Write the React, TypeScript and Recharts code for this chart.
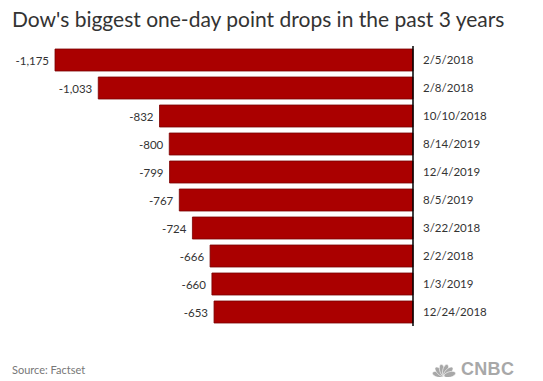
import { BarChart, Bar, XAxis, YAxis, LabelList } from 'recharts';

const dates = ['2/5/2018', '2/8/2018', '10/10/2018', '8/14/2019', '12/4/2019', '8/5/2019', '3/22/2018', '2/2/2018', '1/3/2019', '12/24/2018'];
const drops = [-1175, -1033, -832, -800, -799, -767, -724, -666, -660, -653];

const data = dates.map((date, i) => ({ date, drop: drops[i] }));

const FONT = 'Lato, "Open Sans", sans-serif';

function ValueLabel(props: any) {
  const { x, y, width, height, value } = props;
  const left = Math.min(x, x + width);
  return (
    <text
      x={left - 6}
      y={y + height / 2}
      textAnchor="end"
      dominantBaseline="central"
      fontSize={11.5}
      fontFamily={FONT}
      fill="#333"
    >
      {Number(value).toLocaleString('en-US')}
    </text>
  );
}

// rough gray peacock for the logo
function Peacock() {
  const feathers = [0, 1, 2, 3, 4, 5];
  return (
    <svg width={28} height={15} viewBox="0 0 30 16">
      {feathers.map((i) => (
        <ellipse
          key={i}
          cx={15}
          cy={8.5}
          rx={3}
          ry={6.5}
          fill="#a8a8a8"
          stroke="#fff"
          strokeWidth={0.6}
          transform={`rotate(${-75 + i * 30} 15 15)`}
        />
      ))}
    </svg>
  );
}

export default function App() {
  return (
    <div style={{ position: 'absolute', left: 0, top: 0, width: 543, height: 381, background: '#fff', fontFamily: FONT }}>
      <div style={{ position: 'absolute', left: 12, top: 6, fontSize: 21, color: '#333', whiteSpace: 'nowrap' }}>
        Dow's biggest one-day point drops in the past 3 years
      </div>
      <BarChart
        width={543}
        height={381}
        data={data}
        layout="vertical"
        margin={{ top: 46, right: 10, bottom: 55, left: 55 }}
        barCategoryGap={3}
      >
        <XAxis type="number" domain={[-1175, 0]} hide />
        <YAxis
          type="category"
          dataKey="date"
          orientation="right"
          width={120}
          tickLine={false}
          tickMargin={4}
          axisLine={{ stroke: '#000', strokeWidth: 1.5 }}
          tick={{ fontSize: 11.5, fill: '#333', fontFamily: FONT, textAnchor: 'start' }}
          interval={0}
        />
        <Bar dataKey="drop" fill="#aa0000" stroke="#7a0000" strokeWidth={0.8} isAnimationActive={false}>
          <LabelList dataKey="drop" content={ValueLabel} />
        </Bar>
      </BarChart>
      <div style={{ position: 'absolute', left: 12, top: 363, fontSize: 11, color: '#777' }}>Source: Factset</div>
      <div style={{ position: 'absolute', left: 430, top: 359, display: 'flex', alignItems: 'center', gap: 3 }}>
        <Peacock />
        <span style={{ fontFamily: '"Liberation Sans", Arial, sans-serif', fontWeight: 900, fontSize: 18, color: '#a8a8a8', letterSpacing: 0.3 }}>CNBC</span>
      </div>
    </div>
  );
}
